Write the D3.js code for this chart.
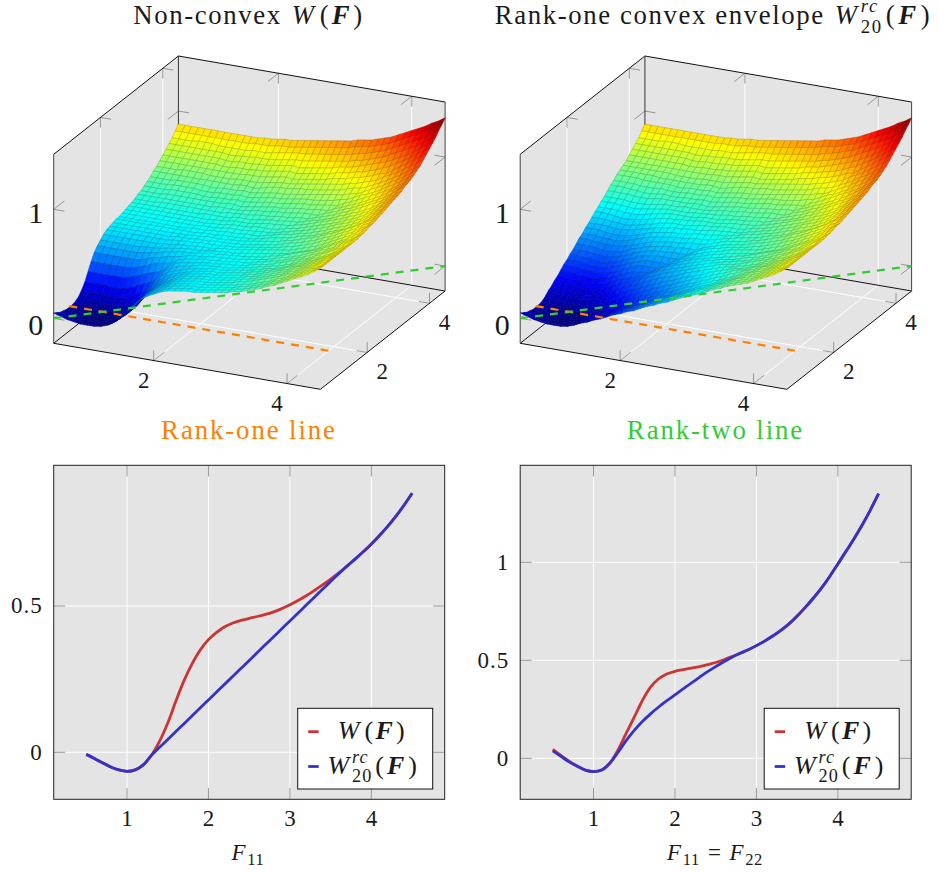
<!DOCTYPE html>
<html lang="en">
<head>
<meta charset="utf-8">
<title>Rank-one convex envelope</title>
<script src="https://cdnjs.cloudflare.com/ajax/libs/d3/7.8.5/d3.min.js"></script>
<style>
  body { margin: 0; background: #fff; }
  svg { display: block; }
  text { font-family: "Liberation Serif", serif; fill: #1a1a1a; }
</style>
</head>
<body>
<script>
// surface values, in hundredths, F11 and F22 from 0.5 to 4.5 in steps of 0.1
// the surface is symmetric so each row starts on the diagonal
var wUpper = [
[5,3,1,0,-1,-1,-1,0,2,6,11,18,25,31,35,38,41,43,44,45,46,46,47,48,49,50,51,53,54,56,58,60,63,65,68,71,74,77,80,84,88],
[2,0,-2,-2,-2,-2,-1,1,5,11,18,25,31,35,38,41,43,44,45,46,46,47,48,49,50,51,53,54,56,58,60,63,65,68,71,74,77,80,84,88],
[-2,-3,-4,-4,-4,-2,0,5,11,18,25,31,35,38,41,43,44,45,46,46,47,48,49,50,51,53,54,56,58,60,63,65,68,71,74,77,80,84,88],
[-4,-5,-5,-5,-3,0,5,11,18,25,31,35,38,41,43,44,45,46,46,47,48,49,50,51,53,54,56,58,60,63,65,68,71,74,77,80,84,88],
[-6,-6,-6,-4,-1,4,10,18,25,31,35,38,41,43,44,45,46,46,47,48,49,50,52,53,55,57,59,61,63,66,68,71,74,77,81,84,88],
[-7,-6,-4,-1,4,10,18,25,31,35,38,41,43,44,45,46,46,47,48,49,50,52,53,55,57,59,61,63,66,68,71,74,77,81,84,88],
[-6,-4,0,5,11,19,26,31,35,38,41,43,44,45,46,46,47,48,49,50,52,53,55,57,59,61,63,66,68,71,74,77,81,84,88],
[-3,1,7,13,21,27,32,36,39,41,43,44,45,46,46,47,48,49,50,52,53,55,57,59,61,63,66,68,71,74,77,80,84,88],
[4,10,16,23,29,34,37,39,41,43,44,45,46,46,47,48,49,50,52,53,55,57,58,61,63,65,68,71,74,77,80,84,88],
[13,19,26,32,36,38,40,42,43,44,45,46,46,47,48,49,50,52,53,55,56,58,60,63,65,68,70,73,76,80,84,88],
[21,28,34,37,40,41,42,44,45,45,46,46,47,48,49,50,52,53,55,56,58,60,63,65,68,70,73,76,80,84,88],
[30,35,39,41,42,43,44,45,45,46,47,47,48,49,51,52,53,55,57,59,61,63,65,68,71,74,77,80,84,88],
[36,40,42,43,44,45,45,46,46,47,48,48,49,51,52,54,55,57,59,61,63,66,68,71,74,77,81,85,88],
[41,43,44,44,45,46,46,47,47,48,49,50,51,52,54,56,57,59,61,64,66,69,71,74,78,81,85,89],
[43,44,45,46,46,47,47,48,48,49,50,51,53,54,56,58,60,62,64,66,69,72,75,78,81,85,89],
[44,45,46,46,47,47,48,49,50,51,52,53,54,55,57,59,61,63,66,69,72,75,78,82,86,90],
[45,46,47,47,48,49,50,51,52,53,54,55,56,58,60,62,64,67,70,73,76,79,83,87,91],
[46,47,47,48,49,50,51,52,53,54,56,57,59,61,63,66,68,71,74,77,80,84,87,91],
[47,48,48,49,50,51,52,53,55,57,58,60,62,64,67,69,72,75,78,81,85,88,92],
[48,49,50,51,52,53,54,56,57,59,61,63,65,68,70,73,76,79,82,86,89,93],
[49,50,51,53,54,55,56,58,60,61,63,65,68,70,72,75,78,82,86,90,94],
[50,52,53,55,56,57,59,60,62,64,66,69,71,73,76,79,83,87,91,95],
[52,53,55,56,58,59,61,63,65,67,70,72,74,77,80,84,88,92,96],
[54,56,57,58,60,62,64,66,68,70,73,75,78,81,85,89,93,97],
[56,58,59,61,63,65,67,69,71,74,76,79,82,86,90,94,98],
[58,60,62,63,65,67,70,72,75,77,80,83,87,91,95,99],
[60,62,64,66,68,71,73,76,79,82,85,88,92,96,100],
[62,65,67,69,72,74,77,80,83,86,89,93,98,102],
[65,68,70,73,75,78,81,84,87,91,95,99,103],
[68,72,74,77,80,83,86,89,92,96,100,104],
[73,76,79,81,84,87,91,94,98,102,106],
[77,80,83,86,89,93,96,100,104,108],
[82,85,88,91,95,98,102,106,110],
[87,91,94,97,101,105,109,113],
[92,96,100,104,108,112,116],
[100,103,107,111,115,119],
[106,110,114,118,122],
[113,117,121,125],
[120,124,129],
[128,132],
[136]
];

var rcFront = [
[5,3,1,0,-1,-1,-1,0,2,5,7,10,12,15,18,20,23,25,28,31,33,36,38,41,44,46,49,51,54,57,59,62,64,66,68,71,74,77,80,84,88],
[2,0,-2,-2,-2,-2,-1,1,4,6,9,12,15,17,20,23,25,28,31,33,36,38,41,44,46,49,51,54,57,59,62,64,66,68,71,74,77,80,84,88],
[-2,-3,-4,-4,-4,-2,0,3,6,9,11,14,17,20,22,25,28,30,33,36,38,41,44,46,49,51,54,57,59,62,64,66,68,71,74,77,80,84,88],
[-4,-5,-5,-5,-3,0,3,5,8,11,13,16,19,22,24,27,30,32,35,38,40,43,46,48,51,54,56,59,62,64,66,68,71,74,77,80,84,88],
[-6,-6,-6,-4,-1,2,5,7,10,13,16,18,21,24,26,29,32,34,37,40,42,45,48,50,53,56,58,61,64,66,68,71,74,77,81,84,88],
[-7,-6,-4,-1,2,4,7,10,12,15,18,20,23,26,29,31,34,37,39,42,45,47,50,53,55,58,61,64,66,68,71,74,77,81,84,88],
[-6,-4,0,3,5,8,11,14,16,19,22,24,27,30,32,35,38,40,43,45,48,50,53,55,58,61,63,66,68,71,74,77,81,84,88],
[-3,1,4,7,10,12,15,18,21,23,26,28,31,34,36,39,41,44,46,49,51,54,56,59,61,63,66,68,71,74,77,80,84,88],
[3,6,9,12,15,18,20,23,26,28,31,33,36,38,41,43,45,48,50,52,55,57,58,61,63,65,68,71,74,77,80,84,88],
[9,12,15,18,20,23,26,28,31,33,35,38,40,42,44,47,49,51,53,55,56,58,60,63,65,68,70,73,76,80,84,88],
[15,18,20,23,26,28,31,33,35,37,40,42,44,46,48,50,52,53,55,56,58,60,63,65,68,70,73,76,80,84,88],
[19,22,25,28,30,33,35,37,39,41,43,45,47,49,51,52,53,55,57,59,61,63,65,68,71,74,77,80,84,88],
[23,26,29,32,34,36,38,40,42,44,46,48,49,51,52,54,55,57,59,61,63,66,68,71,74,77,81,85,88],
[26,29,32,35,37,39,41,43,45,47,48,50,51,52,54,56,57,59,61,64,66,69,71,74,78,81,85,89],
[29,32,35,37,40,42,44,45,47,48,50,51,53,54,56,58,60,62,64,66,69,72,75,78,81,85,89],
[32,35,38,40,42,44,46,48,49,51,52,53,54,55,57,59,61,63,66,69,72,75,78,82,86,90],
[35,38,41,43,45,47,48,50,52,53,54,55,56,58,60,62,64,67,70,73,76,79,83,87,91],
[38,41,44,46,48,49,51,52,53,54,56,57,59,61,63,66,68,71,74,77,80,84,87,91],
[41,44,46,48,50,51,52,53,55,57,58,60,62,64,67,69,72,75,78,81,85,88,92],
[45,47,49,51,52,53,54,56,57,59,61,63,65,68,70,73,76,79,82,86,89,93],
[48,50,51,53,54,55,56,58,60,61,63,65,68,70,72,75,78,82,86,90,94]
];
var rcUpper = rcFront.concat(wUpper.slice(rcFront.length));

// curves of the two lower charts, in hundredths, F from 0.5 to 4.5 in steps of 0.1
var curveF = [0.5,0.6,0.7,0.8,0.9,1,1.1,1.2,1.3,1.4,1.5,1.6,1.7,1.8,1.9,2,2.1,2.2,2.3,2.4,2.5,2.6,2.7,2.8,2.9,3,3.1,3.2,3.3,3.4,3.5,3.6,3.7,3.8,3.9,4,4.1,4.2,4.3,4.4,4.5];
var lineW = [-0.7,-2.1,-3.6,-5,-6,-6.5,-6,-4.3,-1,3.8,10,17.5,24.5,30.3,35,38.5,41,42.9,44.2,45.1,45.8,46.4,47.1,48,49.1,50.4,51.9,53.5,55.3,57.2,59.2,61.3,63.6,66,68.5,71.2,74.1,77.2,80.6,84.4,88.5];
var lineRc = [-0.7,-2.1,-3.6,-5,-6,-6.5,-6,-4.3,-1,1.7,4.4,7.1,9.8,12.5,15.2,17.9,20.6,23.3,26,28.7,31.4,34.1,36.8,39.5,42.2,44.9,47.6,50.3,53,55.7,58.4,61,63.6,66,68.5,71.2,74.1,77.2,80.6,84.4,88.5];
var diagW = [4.6,1.5,-1.5,-4,-6,-6.8,-6,-2.5,4.2,12.7,21,29.5,36.3,40.6,43,44.4,45.2,46,46.8,47.8,48.9,50.3,51.9,53.6,55.4,57.5,59.8,62.4,65.3,68.6,72.6,77,81.8,87,92.8,99.2,105.6,112.2,119.2,126.8,135];
var diagRc = [3.8,1,-1.8,-4,-6,-6.8,-6,-2.5,3,9,14.3,18.8,22.7,26.2,29.4,32.4,35.4,38.4,41.3,44.2,46.8,49.3,51.6,53.6,55.4,57.5,59.8,62.4,65.3,68.6,72.6,77,81.8,87,92.8,99.2,105.6,112.2,119.2,126.8,135];

// dashed lines on the floor of the 3d plots
var rankOne = [[0.5,1],[4.4,1]];
var rankTwo = [[0.5,0.5],[4.5,4.5]];

var tickXY = [2,4];
var tickZ = [0,1];
var jetStops = [0,0.125,0.375,0.625,0.875,1];
var jetColors = ["#00007f","#0000ff","#00ffff","#ffff00","#ff0000","#7f0000"];

var RED = "#cc3333", BLUE = "#3333cc", ORANGE = "#ff8000", GREEN = "#33cc33";
var PANEL = "#e4e4e4", TICK = "#8c8c8c";

var svg = d3.select("body").append("svg").attr("width", 939).attr("height", 873);

// lays out a run of text pieces one after the other, centred on cx
function mathText(cx, y, size, parts, color, spacing) {
    var g = svg.append("g");
    var pos = 0;
    parts.forEach(function(p) {
        var t = g.append("text")
            .attr("x", pos)
            .attr("y", y + (p.dy || 0) * size)
            .attr("font-size", (p.scale || 1) * size)
            .attr("font-style", p.i ? "italic" : "normal")
            .attr("font-weight", p.b ? "bold" : "normal")
            .attr("letter-spacing", spacing || 0)
            .text(p.t);
        if (color) t.style("fill", color);
        if (!p.stack) pos += t.node().getComputedTextLength() + (p.gap || 0);
    });
    g.attr("transform", "translate(" + (cx - pos / 2) + ",0)");
}
var wF = [{t:"W",i:1,gap:4},{t:"(",gap:1.5},{t:"F",i:1,b:1,gap:2},{t:")"}];
var wRc = [{t:"W",i:1,gap:2},{t:"rc",i:1,scale:0.7,dy:-0.44,stack:1},{t:"20",scale:0.7,dy:0.32,gap:3},{t:"(",gap:2},{t:"F",i:1,b:1,gap:3},{t:")"}];

function surface(ox, table) {
    var sx = d3.scaleLinear([0.5, 4.5], [0, 266.7]);
    var sxDown = d3.scaleLinear([0.5, 4.5], [0, 46]);
    var sy = d3.scaleLinear([0.5, 4.5], [0, 124.7]);
    var syUp = d3.scaleLinear([0.5, 4.5], [0, -98.3]);
    var sz = d3.scaleLinear([-0.229, 1.505], [343.3, 154.3]);
    function project(x, y, z) {
        return [ox + sx(x) + sy(y), sz(z) + sxDown(x) + syUp(y)];
    }
    var line = d3.line();
    var g = svg.append("g");
    var xs = curveF;
    var zLo = -0.229, zHi = 1.505;

    // walls and floor
    [[[0.5,0.5,zLo],[4.5,0.5,zLo],[4.5,4.5,zLo],[0.5,4.5,zLo]],
     [[0.5,4.5,zLo],[4.5,4.5,zLo],[4.5,4.5,zHi],[0.5,4.5,zHi]],
     [[0.5,0.5,zLo],[0.5,4.5,zLo],[0.5,4.5,zHi],[0.5,0.5,zHi]]].forEach(function(f) {
        g.append("path").attr("d", line(f.map(function(p) { return project(p[0], p[1], p[2]); })) + "Z").attr("fill", PANEL);
    });

    // grid
    function seg(pts, color, w) {
        g.append("path").attr("fill", "none").attr("stroke", color).attr("stroke-width", w)
            .attr("d", line(pts.map(function(p) { return project(p[0], p[1], p[2]); })));
    }
    tickXY.forEach(function(t) {
        seg([[t,0.5,zLo],[t,4.5,zLo],[t,4.5,zHi]], "#fff", 1);
        seg([[4.5,t,zLo],[0.5,t,zLo],[0.5,t,zHi]], "#fff", 1);
    });

    // ticks are two short strokes, one along each wall direction
    var ux = 0.16, uy = 0.34, uz = 0.095;
    tickXY.forEach(function(t) {
        seg([[t,0.5+uy,zLo],[t,0.5,zLo],[t,0.5,zLo+uz]], TICK, 0.9);
        seg([[t,4.5-uy,zHi],[t,4.5,zHi],[t,4.5,zHi-uz]], TICK, 0.9);
        seg([[4.5-ux,t,zLo],[4.5,t,zLo],[4.5,t,zLo+uz]], TICK, 0.9);
        seg([[0.5+ux,t,zHi],[0.5,t,zHi],[0.5,t,zHi-uz]], TICK, 0.9);
    });
    tickZ.forEach(function(t) {
        seg([[0.5+ux,0.5,t],[0.5,0.5,t],[0.5,0.5+uy,t]], TICK, 0.9);
        seg([[4.5-ux,4.5,t],[4.5,4.5,t],[4.5,4.5-uy,t]], TICK, 0.9);
        seg([[0.5+ux,4.5,t],[0.5,4.5,t],[0.5,4.5-uy,t]], TICK, 0.9);
    });

    // box edges behind the surface
    seg([[0.5,0.5,zHi],[0.5,4.5,zHi],[4.5,4.5,zHi]], "#111", 1);
    seg([[0.5,4.5,zHi],[0.5,4.5,zLo]], "#333", 1);
    seg([[0.5,0.5,zLo],[0.5,4.5,zLo],[4.5,4.5,zLo]], "#111", 1);
    seg([[0.5,0.5,zLo],[4.5,0.5,zLo],[4.5,4.5,zLo]], "#111", 1);
    seg([[0.5,0.5,zHi],[0.5,0.5,zLo]], "#444", 1);
    seg([[4.5,4.5,zHi],[4.5,4.5,zLo]], "#444", 1);

    // surface cells, painted from the far corner to the near one
    function val(i, j) {
        var a = Math.min(i, j), b = Math.max(i, j);
        return table[a][b - a] / 100;
    }
    var color = d3.scaleLinear()
        .domain(jetStops.map(function(s) { return -0.07 + s * (1.36 + 0.07); }))
        .range(jetColors)
        .interpolate(d3.interpolateRgb);
    for (var j = xs.length - 2; j >= 0; j--) {
        for (var i = 0; i < xs.length - 1; i++) {
            var a = val(i, j), b = val(i + 1, j), c = val(i + 1, j + 1), d = val(i, j + 1);
            var fill = color((a + b + c + d) / 4);
            g.append("path")
                .attr("d", line([project(xs[i], xs[j], a), project(xs[i + 1], xs[j], b),
                                 project(xs[i + 1], xs[j + 1], c), project(xs[i], xs[j + 1], d)]) + "Z")
                .attr("fill", fill)
                .attr("stroke", d3.interpolateRgb(fill, "#000")(0.3))
                .attr("stroke-width", 0.5);
        }
    }

    // dashed lines on top
    [[rankOne, ORANGE], [rankTwo, GREEN]].forEach(function(r) {
        g.append("path")
            .attr("d", line(r[0].map(function(p) { return project(p[0], p[1], 0); })))
            .attr("fill", "none").attr("stroke", r[1]).attr("stroke-width", 2.2)
            .attr("stroke-dasharray", "8,7");
    });

    // tick labels
    function label(x, y, t, size) {
        svg.append("text").attr("x", x).attr("y", y).attr("text-anchor", "middle")
            .attr("font-size", size).text(t);
    }
    tickXY.forEach(function(t) {
        var p = project(t, 0.5, zLo);
        label(p[0] - 10, p[1] + 27, t, 23);
        var q = project(4.5, t, zLo);
        label(q[0] + 15, q[1] + 27, t, 23);
    });
    tickZ.forEach(function(t) {
        var p = project(0.5, 0.5, t);
        label(p[0] - 18, p[1] + (t === 0 ? 17 : 14), t, 30);
    });
}

function flat(ox, yDomain, yTicks, yLabels, redVals, blueVals) {
    var x = d3.scaleLinear([0.1, 4.9], [ox, ox + 391]);
    var y = d3.scaleLinear(yDomain, [799.3, 465.3]);
    var g = svg.append("g");
    g.append("rect").attr("x", ox).attr("y", 465.3).attr("width", 391).attr("height", 334).attr("fill", PANEL);

    var xTicks = [1,2,3,4];
    xTicks.forEach(function(t) {
        g.append("line").attr("x1", x(t)).attr("x2", x(t)).attr("y1", 465.3).attr("y2", 799.3)
            .attr("stroke", "#fff").attr("stroke-width", 1);
    });
    yTicks.forEach(function(t) {
        g.append("line").attr("x1", ox).attr("x2", ox + 391).attr("y1", y(t)).attr("y2", y(t))
            .attr("stroke", "#fff").attr("stroke-width", 1);
    });
    xTicks.forEach(function(t) {
        [[465.3, 476.5], [788, 799.3]].forEach(function(e) {
            g.append("line").attr("x1", x(t)).attr("x2", x(t)).attr("y1", e[0]).attr("y2", e[1])
                .attr("stroke", TICK).attr("stroke-width", 0.9);
        });
        svg.append("text").attr("x", x(t)).attr("y", 826).attr("text-anchor", "middle")
            .attr("font-size", 23).text(t);
    });
    yTicks.forEach(function(t, i) {
        [[ox, ox + 11.5], [ox + 379.5, ox + 391]].forEach(function(e) {
            g.append("line").attr("x1", e[0]).attr("x2", e[1]).attr("y1", y(t)).attr("y2", y(t))
                .attr("stroke", TICK).attr("stroke-width", 0.9);
        });
        svg.append("text").attr("x", ox - 11).attr("y", y(t) + 7.5).attr("text-anchor", "end")
            .attr("font-size", 23).attr("letter-spacing", 1).text(yLabels[i]);
    });

    var path = d3.line()
        .x(function(d, i) { return x(curveF[i]); })
        .y(function(d) { return y(d / 100); })
        .curve(d3.curveCatmullRom.alpha(0.5));
    g.append("path").attr("d", path(redVals)).attr("fill", "none").attr("stroke", RED).attr("stroke-width", 2.8);
    g.append("path").attr("d", path(blueVals)).attr("fill", "none").attr("stroke", BLUE).attr("stroke-width", 2.8);

    g.append("rect").attr("x", ox).attr("y", 465.3).attr("width", 391).attr("height", 334)
        .attr("fill", "none").attr("stroke", "#222").attr("stroke-width", 1);

    // legend
    g.append("rect").attr("x", ox + 244).attr("y", 708.3).attr("width", 135).attr("height", 80.7)
        .attr("fill", "#fff").attr("stroke", "#111").attr("stroke-width", 1);
    g.append("line").attr("x1", ox + 254.5).attr("x2", ox + 265).attr("y1", 731.7).attr("y2", 731.7)
        .attr("stroke", RED).attr("stroke-width", 2.8);
    g.append("line").attr("x1", ox + 254.5).attr("x2", ox + 265).attr("y1", 766.5).attr("y2", 766.5)
        .attr("stroke", BLUE).attr("stroke-width", 2.8);
    mathText(ox + 318, 739, 26, wF, null, 1);
    mathText(ox + 319, 774, 26, wRc, null, 1);
}

surface(53.7, wUpper);
surface(520.2, rcUpper);

flat(53.7, [-0.1605, 0.9806], [0, 0.5], ["0", "0.5"], lineW, lineRc);
flat(520.2, [-0.209, 1.495], [0, 0.5, 1], ["0", "0.5", "1"], diagW, diagRc);

// titles and captions
mathText(248.5, 24, 26.8, [{t:"Non-convex",gap:10}].concat(wF), null, 1.6);
mathText(713, 24, 26.8, [{t:"Rank-one convex envelope",gap:10}].concat(wRc), null, 1.6);
mathText(249, 439, 26.8, [{t:"Rank-one line"}], ORANGE, 1.9);
mathText(715.5, 439, 26.8, [{t:"Rank-two line"}], "#33cc33", 1.9);
mathText(248, 860, 23, [{t:"F",i:1,gap:1},{t:"11",scale:0.72,dy:0.2}], null, 0.6);
mathText(715, 860, 23, [{t:"F",i:1,gap:1},{t:"11",scale:0.72,dy:0.2,gap:8},{t:"=",gap:8},{t:"F",i:1,gap:1},{t:"22",scale:0.72,dy:0.2}], null, 0.6);
</script>
</body>
</html>
